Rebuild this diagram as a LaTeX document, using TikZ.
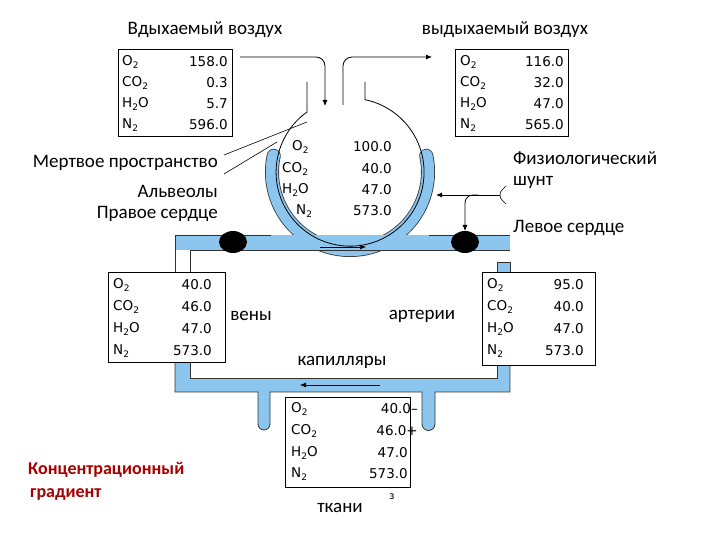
\documentclass[tikz,border=0pt]{standalone}
\usepackage{fontspec}
\setmainfont{Carlito}
\newfontfamily\tabf{DejaVu Sans}
\usetikzlibrary{arrows.meta}
\newcommand\sbs[1]{\raisebox{-0.4ex}{\fontsize{9}{9}\selectfont #1}}
\definecolor{vessel}{HTML}{8CC6EE}
\tikzset{
 lbl/.style={font=\fontsize{19}{21}\selectfont, inner sep=0pt},
 tb/.style={font=\tabf\fontsize{13.5}{15}\selectfont, inner sep=0pt, anchor=west},
 tv/.style={font=\tabf\fontsize{13.5}{15}\selectfont, inner sep=0pt, anchor=east},
 box/.style={draw, line width=1pt},
 arr/.style={-{Latex[length=6pt,width=5pt]}, line width=0.8pt},
}
\begin{document}
\begin{tikzpicture}[x=1pt,y=-1pt]
\useasboundingbox (0,0) rectangle (720,540);
% titles
\node[lbl] (tin) at (205,30) {Вдыхаемый воздух};
\node[lbl] (tout) at (505,30) {выдыхаемый воздух};
% capillary arc around alveolus (outline then fill)
\draw[black!80, line width=14pt, line cap=round] (350,172) ++(-168:78) arc (-168:-372:78);
\draw[vessel, line width=12.4pt, line cap=round] (350,172) ++(-168:78) arc (-168:-372:78);
% vessels
\fill[vessel] (175,235) rectangle (510,250);
\draw[black!80,line width=0.8pt] (510,235) -- (429,235);
\draw[black!80,line width=0.8pt] (271,235) -- (175,235) -- (175,272);
\draw[black!80,line width=0.8pt] (510,250) -- (190,250) -- (190,272);
\fill[vessel] (300,236) rectangle (400,249.2);
\fill[vessel] (175,362) rectangle (190,392);
\fill[vessel] (497,362) rectangle (510,392);
\fill[vessel] (175,378) rectangle (510,392);
\fill[vessel] (258,390) -- (258,424) arc (180:0:6) -- (270,390) -- cycle;
\fill[vessel] (422,390) -- (422,424) arc (180:0:6.5) -- (435,390) -- cycle;
\fill[vessel] (497,262) rectangle (510,272);
\draw[black!80,line width=0.8pt] (175,362) -- (175,392) -- (258,392) -- (258,424) arc (180:0:6) -- (270,392) -- (422,392) -- (422,424) arc (180:0:6.5) -- (435,392) -- (510,392) -- (510,365);
\draw[black!80,line width=0.8pt] (190,362) -- (190,378) -- (497,378) -- (497,365);
\draw[black!80,line width=0.8pt] (497,272) -- (497,262) -- (510,262) -- (510,272);
% valves
\fill (233,242) ellipse (14 and 11);
\fill (465,242) ellipse (14 and 11);
% alveolus
\draw[line width=0.8pt] (307,82) -- (307,112) arc (-125.6:-438.3:74) -- (365,82);
% boxes
\draw[box] (118,50) rectangle (232,137);
\draw[box] (455,50) rectangle (568,137);
\draw[box,fill=white] (108,272) rectangle (225,362);
\draw[box,fill=white] (482,272) rectangle (595,365);
\draw[box,fill=white] (285,397) rectangle (410,487);
% inspired
\node[tb] (a1) at (122,62) {O\sbs{2}}; \node[tv] (a1v) at (228,62) {158.0};
\node[tb] (a2) at (122,83) {CO\sbs{2}}; \node[tv] (a2v) at (228,83) {0.3};
\node[tb] (a3) at (122,104) {H\sbs{2}O}; \node[tv] (a3v) at (228,104) {5.7};
\node[tb] (a4) at (122,125) {N\sbs{2}}; \node[tv] (a4v) at (228,125) {596.0};
% expired
\node[tb] (b1) at (460,62) {O\sbs{2}}; \node[tv] (b1v) at (564,62) {116.0};
\node[tb] (b2) at (460,83) {CO\sbs{2}}; \node[tv] (b2v) at (564,83) {32.0};
\node[tb] (b3) at (460,104) {H\sbs{2}O}; \node[tv] (b3v) at (564,104) {47.0};
\node[tb] (b4) at (460,125) {N\sbs{2}}; \node[tv] (b4v) at (564,125) {565.0};
% alveolar
\node[tb] (c1) at (292,147) {O\sbs{2}}; \node[tv] (c1v) at (392,147) {100.0};
\node[tb] (c2) at (282,169) {CO\sbs{2}}; \node[tv] (c2v) at (392,169) {40.0};
\node[tb] (c3) at (282,190) {H\sbs{2}O}; \node[tv] (c3v) at (392,190) {47.0};
\node[tb] (c4) at (296,211) {N\sbs{2}}; \node[tv] (c4v) at (392,211) {573.0};
% venous
\node[tb] (d1) at (113,285) {O\sbs{2}}; \node[tv] (d1v) at (212,285) {40.0};
\node[tb] (d2) at (113,307) {CO\sbs{2}}; \node[tv] (d2v) at (212,307) {46.0};
\node[tb] (d3) at (113,329) {H\sbs{2}O}; \node[tv] (d3v) at (212,329) {47.0};
\node[tb] (d4) at (113,351) {N\sbs{2}}; \node[tv] (d4v) at (212,351) {573.0};
% arterial
\node[tb] (e1) at (487,285) {O\sbs{2}}; \node[tv] (e1v) at (584,285) {95.0};
\node[tb] (e2) at (487,307) {CO\sbs{2}}; \node[tv] (e2v) at (584,307) {40.0};
\node[tb] (e3) at (487,329) {H\sbs{2}O}; \node[tv] (e3v) at (584,329) {47.0};
\node[tb] (e4) at (487,351) {N\sbs{2}}; \node[tv] (e4v) at (584,351) {573.0};
% tissue
\node[tb] (f1) at (291,409) {O\sbs{2}}; \node[tv] (f1v) at (418,409) {40.0–};
\node[tb] (f2) at (291,431) {CO\sbs{2}}; \node[tv] (f2v) at (418,431) {46.0+};
\node[tb] (f3) at (291,453) {H\sbs{2}O}; \node[tv] (f3v) at (408,453) {47.0};
\node[tb] (f4) at (291,474) {N\sbs{2}}; \node[tv] (f4v) at (408,474) {573.0};
% air flow arrows
\coordinate (i0) at (240,57); \coordinate (i1) at (325,106);
\draw[arr,rounded corners=9pt] (i0) -| (i1);
\coordinate (o0) at (343,105); \coordinate (o1) at (432,57);
\draw[arr,rounded corners=9pt] (o0) |- (o1);
% blood flow arrows
\coordinate (p0) at (320,247); \coordinate (p1) at (366,247);
\draw[arr,line width=0.6pt] (p0) -- (p1);
\coordinate (q0) at (380,385); \coordinate (q1) at (300,385);
\draw[arr,line width=0.6pt] (q0) -- (q1);
% shunt
\coordinate (s0) at (500,195); \coordinate (s1) at (436,195); \coordinate (s2) at (465,231); \coordinate (s3) at (506,186); \coordinate (s4) at (506,204);
\draw[arr] (s0) -- (s1);
\draw[arr,rounded corners=8pt] (478,195) -| (s2);
\draw[line width=0.6pt] (s3) .. controls (500,192) .. (s0) .. controls (500,198) .. (s4);
% labels
\node[lbl,anchor=east] (dead) at (218,163) {Мертвое пространство};
\node[lbl,anchor=east] (alv) at (218,191) {Альвеолы};
\node[lbl,anchor=east] (rh) at (218,214) {Правое сердце};
\draw[line width=0.6pt] (224,155) -- (307,122);
\draw[line width=0.6pt] (224,174) -- (277,142);
\node[lbl,anchor=west] (fs1) at (513,158) {Физиологический};
\node[lbl,anchor=west] (fs2) at (513,182) {шунт};
\node[lbl,anchor=west] (lh) at (513,228) {Левое сердце};
\node[lbl] (veny) at (251,316) {вены};
\node[lbl] (art) at (422,316) {артерии};
\node[lbl] (cap) at (342,362) {капилляры};
\node[lbl] (tk) at (340,508) {ткани};
\node[lbl,font=\fontsize{12}{14}\selectfont] (z) at (392,497) {з};
\node[lbl,anchor=west,text=red!65!black,font=\bfseries\fontsize{18}{20}\selectfont] (kg1) at (28,470) {Концентрационный};
\node[lbl,anchor=west,text=red!65!black,font=\bfseries\fontsize{18}{20}\selectfont] (kg2) at (30,494) {градиент};
\end{tikzpicture}
\end{document}
